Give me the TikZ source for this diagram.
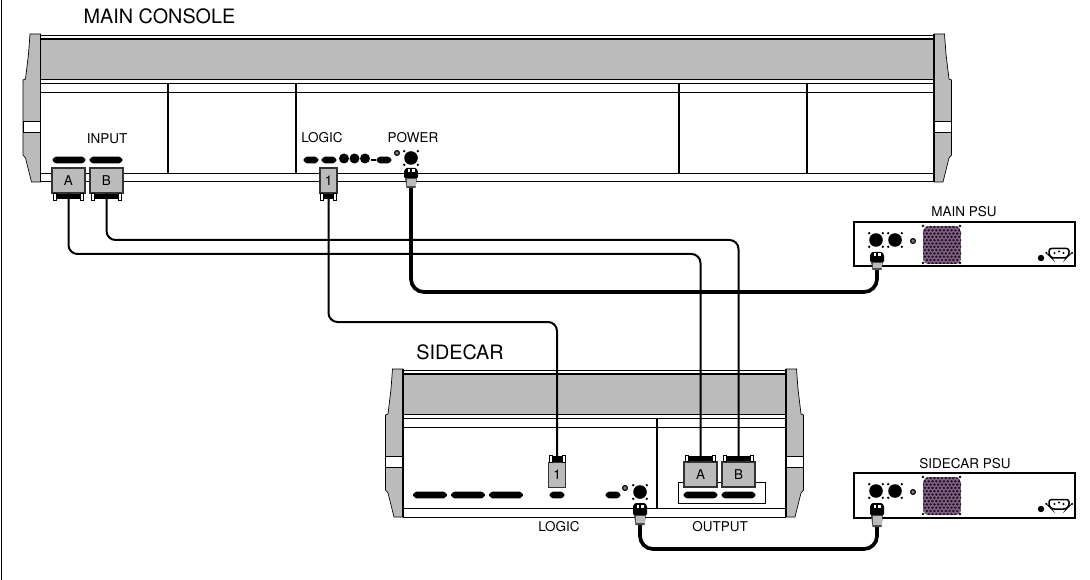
\documentclass[tikz,border=0pt]{standalone}
\usepackage{fontspec}
\setmainfont{TeX Gyre Heros}
\definecolor{paneltone}{HTML}{BBBBBB}
\definecolor{grilletone}{HTML}{2E0E32}
\tikzset{
    biglabel/.style={inner sep=0pt, font=\fontsize{19.8}{22}\selectfont},
    smalllabel/.style={inner sep=0pt, font=\fontsize{13.5}{15}\selectfont},
    plugbox/.style={draw=black!80, line width=1.3pt, fill=paneltone, inner sep=0pt,
        minimum width=33pt, minimum height=25pt, font=\fontsize{13.5}{15}\selectfont},
    narrowplug/.style={plugbox, minimum width=17pt},
    signalcable/.style={line width=2pt, rounded corners=9pt},
    powercable/.style={line width=3.7pt, rounded corners=13pt},
}
% console: left panel edge, right panel edge, top
\newcommand{\consolecap}{
    \draw[line width=.7pt, fill=paneltone](-10.5,0)--(0,0)--(0,148)--(-9,148)--(-15,124)--(-17.5,121)--(-17.5,46)--(-15,45)--(-12,20)--cycle;
    \draw[line width=.7pt, fill=white](-17.5,87)rectangle(0,98);
    \draw[line width=1.2pt](0,0)--(0,148);
}
\newcommand{\consolebody}[3]{
\begin{scope}[shift={(0,#3)}]
    \fill[paneltone](#1,6)rectangle(#2,45);
    \draw[line width=.7pt](#1,1)--(#2,1);
    \draw[line width=2pt](#1,5)--(#2,5);
    \draw[line width=1pt](#1,45.5)--(#2,45.5);
    \draw[line width=1.4pt](#1,49.5)--(#2,49.5);
    \draw[line width=.9pt](#1,58)--(#2,58);
    \draw[line width=1.5pt](#1,139.5)--(#2,139.5);
    \draw[line width=1pt](#1,148)--(#2,148);
    \begin{scope}[shift={(#1,0)}]\consolecap\end{scope}
    \begin{scope}[shift={(#2,0)},xscale=-1]\consolecap\end{scope}
\end{scope}
}
% flat connector: x, y, half width
\newcommand{\dsub}[3]{
    \fill[rounded corners=1pt](#1-#3,#2)--(#1-#3+3,#2-3.3)--(#1+#3-3,#2-3.3)--(#1+#3,#2)--(#1+#3-3,#2+3.3)--(#1-#3+3,#2+3.3)--cycle;
}
\newcommand{\fanhole}[2]{
    \fill(#1,#2)circle(6.8);
    \foreach \dx/\dy in {-6.8/-6.8,6.8/-6.8,-6.8/6.8,6.8/6.8}
        \fill(#1+\dx,#2+\dy)circle(1.3);
}
\newcommand{\screwhole}[2]{
    \draw[line width=1.2pt, fill=black!50](#1,#2)circle(2.4);
}
% plug feet: anchor, half width, direction
\newcommand{\plugfeet}[3]{
\begin{scope}[shift={(#1)},yscale=#3]
    \fill(-#2+1,0)rectangle(#2-1,5.5);
    \draw[line width=.7pt, fill=white](-#2-1,0)rectangle(-#2+2,6.5);
    \draw[line width=.7pt, fill=white](#2-2,0)rectangle(#2+1,6.5);
\end{scope}
}
% power plug: x, top, split, bottom
\newcommand{\powerplug}[4]{
    \fill[black!70](#1-6,#3)--(#1+6,#3)--(#1+4.5,#4)--(#1-4.5,#4)--cycle;
    \fill[paneltone](#1-4.5,#3+1)rectangle(#1+4.5,#4-2);
    \fill[rounded corners=1pt](#1-7,#2+3)--(#1-5,#2)--(#1+5,#2)--(#1+7,#2+3)--(#1+7,#3)--(#1-7,#3)--cycle;
    \fill[white](#1-3.5,#2+1.5)rectangle(#1-.8,#2+4.5);
    \fill[white](#1+.8,#2+1.5)rectangle(#1+3.5,#2+4.5);
}
% supply: top, bottom
\newcommand{\supplybox}[2]{
    \draw[line width=1.1pt](854,#1)rectangle(1075,#2);
    \fanhole{876}{#1+18}
    \fanhole{895}{#1+18}
    \screwhole{913}{#1+19}
    \foreach \dx/\dy in {923/4,960/4,923/41,960/41}
        \fill(\dx,#1+\dy)circle(1.4);
    \begin{scope}
        \clip[rounded corners=6pt](923,#1+4)rectangle(961,#1+42);
        \fill[grilletone!62!white](923,#1+4)rectangle(961,#1+42);
        \foreach \row in {0,...,11}
            \foreach \col in {0,...,10}
                \fill[grilletone]({923+\col*3.8+mod(\row,2)*1.9},{#1+5+\row*3.3})circle(1.45);
    \end{scope}
    \fill(1041,#1+36)circle(3.2);
    \fill(1046.5,#1+31)circle(1.1);
    \fill(1072,#1+31)circle(1.1);
    \draw[line width=1.5pt, fill=white, rounded corners=2.5pt](1049,#1+26.5)--(1069,#1+26.5)--(1069,#1+33)--(1066,#1+36)--(1052,#1+36)--(1049,#1+33)--cycle;
    \fill(1054.5,#1+31)circle(1.1);
    \fill(1059,#1+29.5)circle(1.1);
    \fill(1063.5,#1+31)circle(1.1);
}

\begin{document}
\begin{tikzpicture}[x=1pt,y=-1pt]
\useasboundingbox(0,0)rectangle(1090,580);
\draw[line width=1pt](1.5,0)--(1.5,580);

% main console
\consolebody{40.5}{934}{34}
\foreach \x in {168,296,679,807}
    \draw[line width=1.2pt](\x,83)--(\x,174);
\node[biglabel](mainlabel) at (159.5,16){MAIN CONSOLE};
\node[smalllabel](inputlabel) at (107,139){INPUT};
\node[smalllabel](logiclabel) at (322,138){LOGIC};
\node[smalllabel](powerlabel) at (413,138){POWER};
\foreach \x in {69,106}
{
    \dsub{\x}{160}{17}
}
\foreach \x in {311,329,384}
{
    \dsub{\x}{160}{8}
}
\foreach \x in {344,354.5,365}
    \fill(\x,158.5)circle(5);
\fill(371,159)rectangle(376,161);
\screwhole{397}{153}
\fanhole{411}{158}

% sidecar
\consolebody{403}{786}{369}
\draw[line width=1.2pt](657,418)--(657,508);
\node[biglabel](sidecarlabel) at (460,352){SIDECAR};
\node[smalllabel](sidelogiclabel) at (559,527){LOGIC};
\node[smalllabel](outputlabel) at (720,527){OUTPUT};
\foreach \x in {430,468,506}
{
    \dsub{\x}{495}{17.5}
}
\foreach \x in {557,613}
{
    \dsub{\x}{495}{8}
}
\screwhole{625}{488}
\fanhole{640}{492}
\draw[line width=.7pt](678,482)rectangle(765,503);
\foreach \x in {700.5,738.5}
{
    \dsub{\x}{495}{17.5}
}

% supplies
\supplybox{222}{266}
\supplybox{473}{518}
\node[smalllabel](mainpsulabel) at (964,212){MAIN PSU};
\node[smalllabel](sidepsulabel) at (965,464){SIDECAR PSU};

% plugs
\node[plugbox](inA) at (68.5,180.5){A};
\node[plugbox](inB) at (106.5,180.5){B};
\node[narrowplug](inone) at (328.5,180.5){1};
\node[plugbox](outA) at (700.5,474.5){A};
\node[plugbox](outB) at (738.5,474.5){B};
\node[narrowplug](outone) at (557,475){1};
\plugfeet{inA.south}{14}{1}
\plugfeet{inB.south}{14}{1}
\plugfeet{inone.south}{7}{1}
\plugfeet{outA.north}{14}{-1}
\plugfeet{outB.north}{14}{-1}
\plugfeet{outone.north}{7}{-1}

% cables
\coordinate(bendA) at (700.5,254);
\coordinate(bendB) at (738.5,240);
\coordinate(bendone) at (557,322);
\coordinate(mainpower) at (411,186);
\coordinate(mainsupply) at (877,268);
\coordinate(mainbend) at (877,292);
\coordinate(sidepower) at (640,524);
\coordinate(sidesupply) at (877,524);
\coordinate(sidebend) at (877,549);
\draw[signalcable](inA.south)|-(bendA)--(outA.north);
\draw[signalcable](inB.south)|-(bendB)--(outB.north);
\draw[signalcable](inone.south)|-(bendone)--(outone.north);
\draw[powercable](mainpower)|-(mainbend)--(mainsupply);
\draw[powercable](sidepower)|-(sidebend)--(sidesupply);

\powerplug{411}{168}{178}{188}
\powerplug{640}{503}{515}{525}
\powerplug{877}{252}{262}{270}
\powerplug{877}{503}{515}{527}
\end{tikzpicture}
\end{document}
